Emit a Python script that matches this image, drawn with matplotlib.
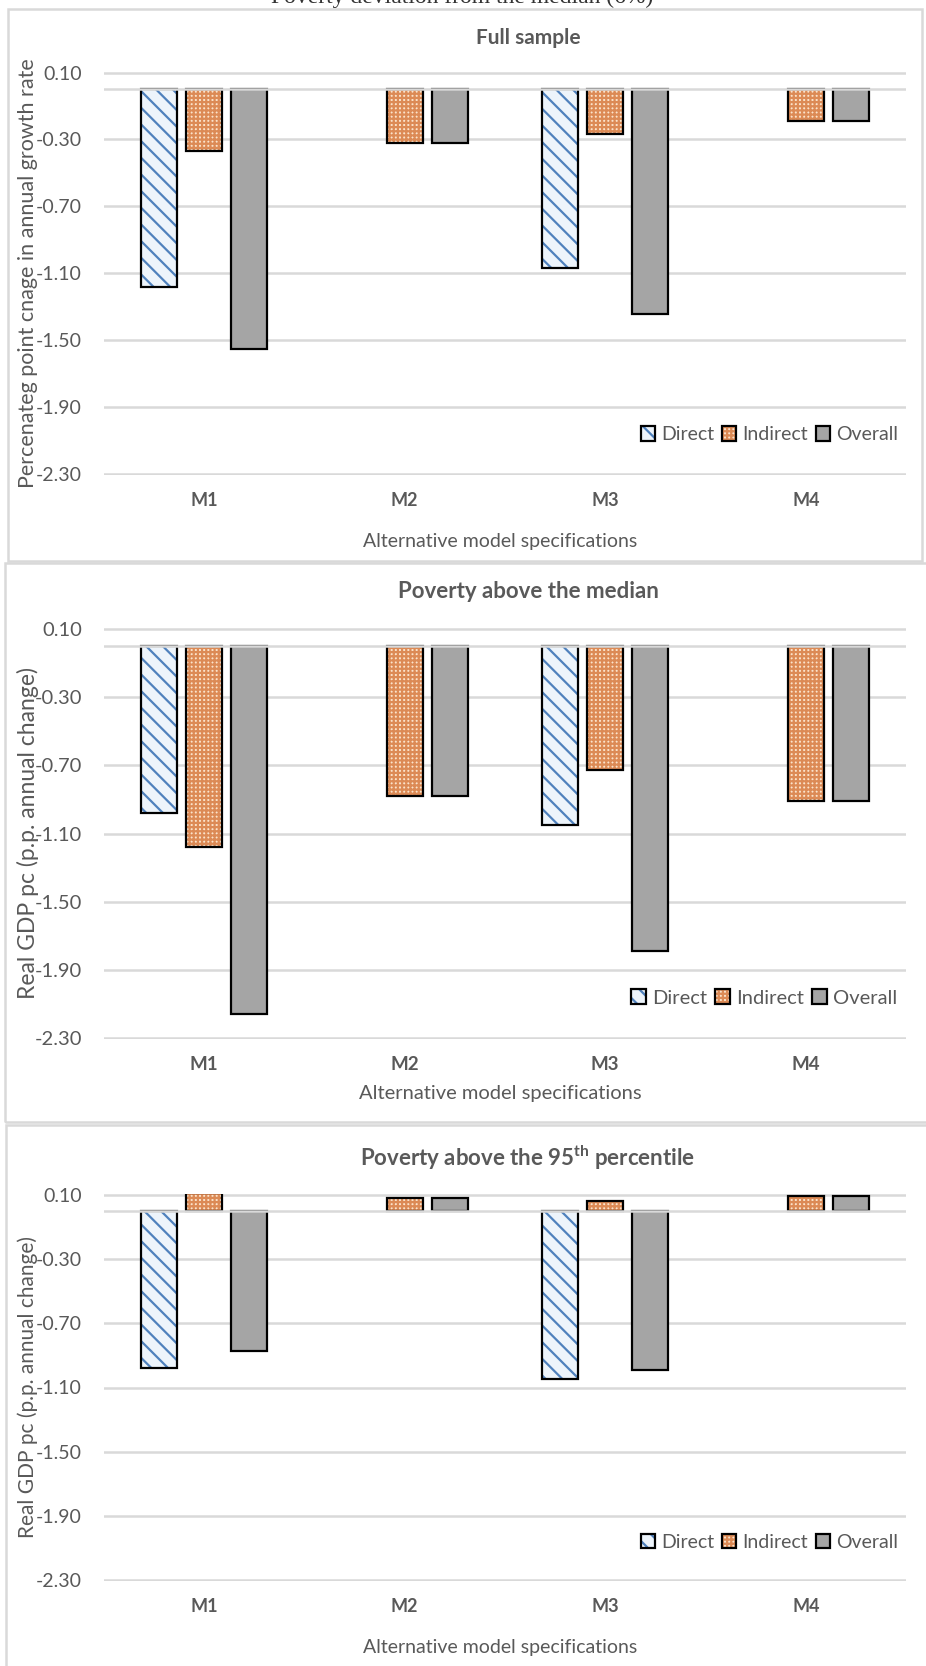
import numpy as np
import matplotlib.pyplot as plt
from matplotlib.patches import Patch, Rectangle

plt.rcParams['font.family'] = ['Lato', 'DejaVu Sans']
plt.rcParams['mathtext.fontset'] = 'custom'
plt.rcParams['mathtext.rm'] = 'Lato'
plt.rcParams['mathtext.bf'] = 'Lato:bold'
plt.rcParams['hatch.linewidth'] = 1.6

# data (nan = no bar)
models = ['M1', 'M2', 'M3', 'M4']
series = ['Direct', 'Indirect', 'Overall']
yticks = [0.10, -0.30, -0.70, -1.10, -1.50, -1.90, -2.30]

full_direct = [-1.18, np.nan, -1.07, np.nan]
full_indirect = [-0.37, -0.32, -0.27, -0.19]
full_overall = [-1.55, -0.32, -1.34, -0.19]

med_direct = [-0.98, np.nan, -1.05, np.nan]
med_indirect = [-1.18, -0.88, -0.73, -0.91]
med_overall = [-2.16, -0.88, -1.79, -0.91]

p95_direct = [-0.98, np.nan, -1.05, np.nan]
p95_indirect = [0.11, 0.08, 0.06, 0.09]
p95_overall = [-0.87, 0.08, -0.99, 0.09]

titles = ['Full sample', 'Poverty above the median',
          r'Poverty above the 95$^{\mathbf{th}}$ percentile']
ylabels = ['Percenateg point cnage in annual growth rate',
           'Real GDP pc (p.p. annual change)',
           'Real GDP pc (p.p. annual change)']
xlabel = 'Alternative model specifications'

TXT = '#595959'
GRID = '#D9D9D9'
W, H = 926, 1666

# fill colour, hatch colour, hatch
styles = {
    'Direct': ('#EDF4FB', '#4F81BD', '\\\\'),
    'Indirect': ('#FBE3CB', '#DC8A55', '++++'),
    'Overall': ('#A5A5A5', None, None),
}

fig = plt.figure(figsize=(W / 100, H / 100), dpi=100)


def fx(px):
    return px / W


def fy(py):
    return 1 - py / H


def panel_box(x0, y0, x1, y1):
    fig.add_artist(Rectangle((fx(x0), fy(y1)), fx(x1 - x0), (y1 - y0) / H,
                             transform=fig.transFigure, fill=False,
                             ec=GRID, lw=1.8))


def draw(ax, vals, fs):
    x = np.arange(len(models))
    for i, (name, v) in enumerate(zip(series, vals)):
        pos = x + (i - 1) * 0.225
        fc, hc, h = styles[name]
        if h:
            ax.bar(pos, v, 0.18, color=fc, edgecolor=hc, hatch=h, linewidth=0, zorder=2)
            ax.bar(pos, v, 0.18, fill=False, edgecolor='black', linewidth=1.6, zorder=3)
        else:
            ax.bar(pos, v, 0.18, color=fc, edgecolor='black', linewidth=1.6, zorder=3)
    ax.axhline(0, color=GRID, lw=1.8, zorder=4)
    ax.set_xlim(-0.5, len(models) - 0.5)
    ax.set_ylim(-2.305, 0.105)
    ax.set_yticks(yticks)
    ax.set_yticklabels(['%.2f' % t for t in yticks])
    ax.set_xticks(x)
    ax.set_xticklabels(models, fontweight='bold')
    ax.tick_params(axis='y', length=0, pad=16, labelsize=fs, labelcolor=TXT)
    ax.tick_params(axis='x', length=0, pad=12, labelsize=fs - 1, labelcolor=TXT)
    ax.yaxis.grid(True, color=GRID, lw=1.8)
    ax.set_axisbelow(True)
    for s in ax.spines.values():
        s.set_visible(False)
    handles = []
    for name in series:
        fc, hc, h = styles[name]
        if h:
            handles.append((Patch(fc=fc, ec=hc, hatch=h, lw=0),
                            Patch(fill=False, ec='black', lw=1.6)))
        else:
            handles.append(Patch(fc=fc, ec='black', lw=1.6))
    ax.legend(handles, series, ncol=3, loc='center right',
              bbox_to_anchor=(1.012, 0.10), frameon=False, fontsize=fs,
              labelcolor=TXT, handlelength=0.75, handleheight=0.75,
              handletextpad=0.3, columnspacing=0.4)


# panel borders
panel_box(8, 9, 922, 561)
panel_box(5, 563, 940, 1122)
panel_box(6, 1125, 940, 1690)

# clipped heading above the charts
fig.text(fx(462), fy(-3), 'Poverty deviation from the median (6%)', ha='center',
         va='center', fontsize=17, family='Liberation Serif', color='#333333')

# axes: (top px, bottom px, title y, xlabel y, font size, title size, ylabel size)
layout = [(71.7, 475, 38, 541, 14, 15, 15.5),
          (628, 1039, 592, 1093, 14.5, 16, 16.5),
          (1194, 1581, 1158, 1647, 14, 16, 15)]
data = [(full_direct, full_indirect, full_overall),
        (med_direct, med_indirect, med_overall),
        (p95_direct, p95_indirect, p95_overall)]

for k, (top, bot, ty, xly, fs, tfs, yfs) in enumerate(layout):
    ax = fig.add_axes([fx(104), fy(bot), fx(906 - 104), (bot - top) / H])
    draw(ax, data[k], fs)
    fig.text(fx(528), fy(ty), titles[k], ha='center', va='center',
             fontsize=tfs, fontweight='bold', color=TXT)
    fig.text(fx(500), fy(xly), xlabel, ha='center', va='center',
             fontsize=fs, color=TXT)
    fig.text(fx(28), fy((top + bot) / 2), ylabels[k], ha='center', va='center',
             rotation=90, fontsize=yfs, color=TXT)

fig.savefig('out.png', dpi=100)
